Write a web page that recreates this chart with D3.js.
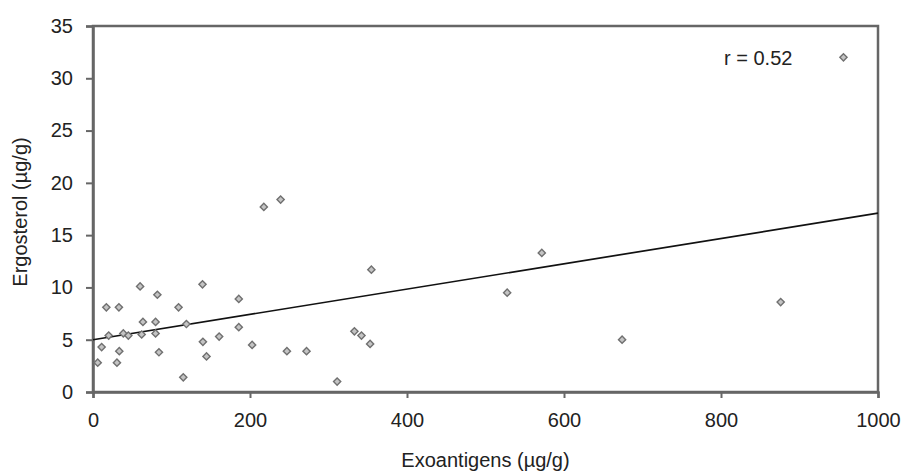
<!DOCTYPE html>
<html>
<head>
<meta charset="utf-8">
<script src="https://cdn.jsdelivr.net/npm/d3@7"></script>
<style>
body { margin: 0; background: #fff; }
text { font-family: "Liberation Sans", Arial, sans-serif; fill: #222; }
</style>
</head>
<body>
<svg id="chart" width="905" height="474"></svg>
<script>
// exoantigens (x) and ergosterol (y)
var exo = [6, 11, 17, 20, 33, 33.5, 30.5, 38.6, 45, 60, 63.6, 62, 79.7, 82, 79.7, 84,
	109, 119, 115, 139.5, 140, 144.6, 160.7, 185.7, 185.7, 202.7, 217.6, 239,
	247, 272, 311, 333, 342, 353, 354.6, 527.6, 571.7, 674, 876, 956]
var ergo = [2.8, 4.3, 8.1, 5.4, 8.1, 3.9, 2.8, 5.6, 5.4, 10.1, 6.7, 5.5, 6.7, 9.3, 5.6, 3.8,
	8.1, 6.5, 1.4, 10.3, 4.8, 3.4, 5.3, 8.9, 6.2, 4.5, 17.7, 18.4,
	3.9, 3.9, 1.0, 5.8, 5.4, 4.6, 11.7, 9.5, 13.3, 5.0, 8.6, 32.0]
var trendX = [0, 1000]
var trendY = [5.0, 17.1]
var xTicks = [0, 200, 400, 600, 800, 1000]
var yTicks = [0, 5, 10, 15, 20, 25, 30, 35]

var margin = {left: 93, top: 26, right: 27, bottom: 82}
var width = 905 - margin.left - margin.right
var height = 474 - margin.top - margin.bottom

var svg = d3.select("#chart")
var g = svg.append("g")
	.attr("transform", "translate(" + margin.left + "," + margin.top + ")")

var x = d3.scaleLinear().domain([0, 1000]).range([0, width])
var y = d3.scaleLinear().domain([0, 35]).range([height, 0])

// frame
g.append("rect")
	.attr("width", width)
	.attr("height", height)
	.attr("fill", "none")
	.attr("stroke", "#666")
	.attr("stroke-width", 2.5)

var xAxis = g.append("g")
	.attr("transform", "translate(0," + height + ")")
	.call(d3.axisBottom(x).tickValues(xTicks).tickFormat(d3.format("d")).tickSize(6).tickPadding(15))
var yAxis = g.append("g")
	.call(d3.axisLeft(y).tickValues(yTicks).tickSize(7).tickPadding(13))

for (let a of [xAxis, yAxis]) {
	a.select(".domain").attr("stroke", "#666").attr("stroke-width", 2.5)
	a.selectAll(".tick line").attr("stroke", "#666").attr("stroke-width", 2)
	a.selectAll(".tick text").style("font-size", "20px").attr("fill", "#333")
}

// regression line
g.append("line")
	.attr("x1", x(trendX[0]))
	.attr("y1", y(trendY[0]))
	.attr("x2", x(trendX[1]))
	.attr("y2", y(trendY[1]))
	.attr("stroke", "#111")
	.attr("stroke-width", 1.7)

var points = exo.map((v, i) => ({x: v, y: ergo[i]}))

g.selectAll(".pt")
	.data(points)
	.join("path")
	.classed("pt", true)
	.attr("d", d3.symbol().type(d3.symbolSquare).size(26))
	.attr("transform", d => "translate(" + x(d.x) + "," + y(d.y) + ") rotate(45)")
	.attr("fill", "#c4c4c4")
	.attr("stroke", "#707070")
	.attr("stroke-width", 1.4)

g.append("text")
	.attr("x", 631)
	.attr("y", 39)
	.style("font-size", "20px")
	.text("r = 0.52")

svg.append("text")
	.attr("x", margin.left + width / 2)
	.attr("y", 467)
	.attr("text-anchor", "middle")
	.style("font-size", "20px")
	.text("Exoantigens (µg/g)")

svg.append("text")
	.attr("transform", "translate(27," + (margin.top + height / 2 + 3) + ") rotate(-90)")
	.attr("text-anchor", "middle")
	.style("font-size", "20px")
	.text("Ergosterol (µg/g)")
</script>
</body>
</html>
